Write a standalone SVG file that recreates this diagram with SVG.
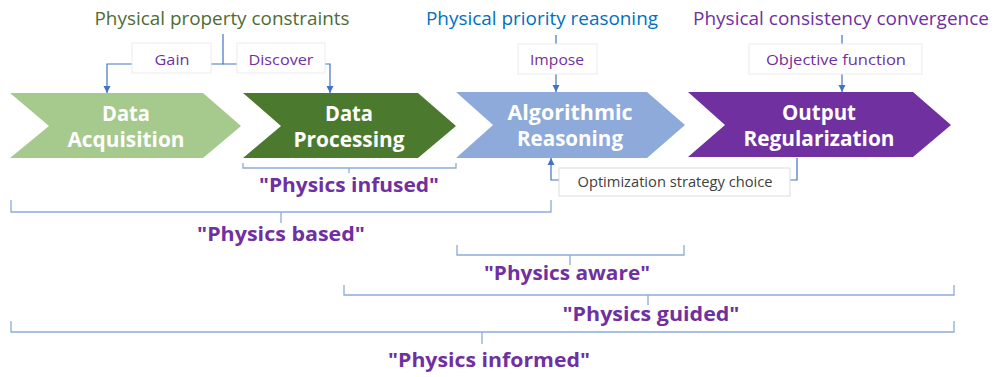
<svg xmlns="http://www.w3.org/2000/svg" width="995" height="377" viewBox="0 0 995 377">
<defs>
<marker id="arr" markerUnits="userSpaceOnUse" markerWidth="8" markerHeight="8" refX="7" refY="4" orient="auto" viewBox="0 0 8 8">
<path d="M0,0.5 L7,4 L0,7.5 Z" fill="#4472C4"/>
</marker>
<style>
.top{font-family:"Open Sans","Liberation Sans",sans-serif;font-size:18px;text-anchor:middle}
.lab{font-family:"Open Sans","Liberation Sans",sans-serif;font-size:14.5px;fill:#7030A0;text-anchor:middle}
.box{fill:#ffffff;stroke:#ececec;stroke-width:1}
.chv{font-family:"Open Sans","Liberation Sans",sans-serif;font-size:21px;font-weight:bold;fill:#ffffff;text-anchor:middle}
.con{fill:none;stroke:#4472C4;stroke-width:1.2}
.brk{fill:none;stroke:#8FAADC;stroke-width:1.3}
.phy{font-family:"Open Sans","Liberation Sans",sans-serif;font-size:19px;font-weight:bold;fill:#7030A0;text-anchor:middle}
</style>
</defs>
<rect width="995" height="377" fill="#ffffff"/>

<g id="top-labels">
<text class="top" x="222" y="25" fill="#4E6C36" textLength="255" lengthAdjust="spacingAndGlyphs">Physical property constraints</text>
<text class="top" x="542" y="25" fill="#0070C0" textLength="232" lengthAdjust="spacingAndGlyphs">Physical priority reasoning</text>
<text class="top" x="841" y="25" fill="#7030A0" textLength="296" lengthAdjust="spacingAndGlyphs">Physical consistency convergence</text>
</g>

<g id="connectors">
<path class="con" d="M223,34 V64 H107 V93" marker-end="url(#arr)"/>
<path class="con" d="M223,64 H330 V93" marker-end="url(#arr)"/>
<path class="con" d="M556,35 V92" marker-end="url(#arr)"/>
<path class="con" d="M842,35 V92" marker-end="url(#arr)"/>
<path class="con" d="M797,158 V180 H551 V158" marker-end="url(#arr)"/>
</g>

<g id="edge-labels">
<g id="lbl-gain"><rect class="box" x="132" y="43" width="79" height="30"/><text class="lab" x="172" y="65" textLength="35" lengthAdjust="spacingAndGlyphs">Gain</text></g>
<g id="lbl-discover"><rect class="box" x="237" y="43" width="88" height="30"/><text class="lab" x="281" y="65" textLength="65" lengthAdjust="spacingAndGlyphs">Discover</text></g>
<g id="lbl-impose"><rect class="box" x="518" y="44" width="79" height="30"/><text class="lab" x="557" y="65" textLength="54" lengthAdjust="spacingAndGlyphs">Impose</text></g>
<g id="lbl-objective"><rect class="box" x="749" y="44" width="173" height="30"/><text class="lab" x="836" y="65" textLength="140" lengthAdjust="spacingAndGlyphs">Objective function</text></g>
<g id="lbl-optimization"><rect class="box" x="559" y="168" width="231" height="28" style="stroke:#dcdcdc"/><text class="lab" x="675" y="187" style="fill:#404040" textLength="195" lengthAdjust="spacingAndGlyphs">Optimization strategy choice</text></g>
</g>

<g id="node-acquisition">
<polygon points="10,93 203,93 241,126 203,158 10,158 49,126" fill="#A6C98E"/>
<text class="chv" x="126" y="121" textLength="48" lengthAdjust="spacingAndGlyphs">Data</text>
<text class="chv" x="126" y="147" textLength="117" lengthAdjust="spacingAndGlyphs">Acquisition</text>
</g>
<g id="node-processing">
<polygon points="243,93 418,93 456,126 418,158 243,158 281,126" fill="#4B7A2E"/>
<text class="chv" x="349" y="121" textLength="48" lengthAdjust="spacingAndGlyphs">Data</text>
<text class="chv" x="349" y="147" textLength="111" lengthAdjust="spacingAndGlyphs">Processing</text>
</g>
<g id="node-reasoning">
<polygon points="456,92 647,92 685,125 647,158 456,158 493,125" fill="#8EAADB"/>
<text class="chv" x="570" y="120" textLength="125" lengthAdjust="spacingAndGlyphs">Algorithmic</text>
<text class="chv" x="570" y="146" textLength="106" lengthAdjust="spacingAndGlyphs">Reasoning</text>
</g>
<g id="node-regularization">
<polygon points="688,92 913,92 951,125 913,157 688,157 725,125" fill="#7030A0"/>
<text class="chv" x="819" y="120" textLength="74" lengthAdjust="spacingAndGlyphs">Output</text>
<text class="chv" x="819" y="146" textLength="151" lengthAdjust="spacingAndGlyphs">Regularization</text>
</g>

<g id="brackets">
<path class="brk" d="M243,163 V168 H456 V163 M349,168 V173"/>
<path class="brk" d="M11,200 V212 H551 V200 M281,212 V223"/>
<path class="brk" d="M457,245 V255 H684 V245 M570,255 V265"/>
<path class="brk" d="M344,285 V295 H954 V285 M648,295 V305"/>
<path class="brk" d="M11,321 V332 H954 V321 M482,332 V344"/>
</g>

<g id="scope-labels">
<text class="phy" x="349" y="192" textLength="180" lengthAdjust="spacingAndGlyphs">"Physics infused"</text>
<text class="phy" x="281" y="241" textLength="168" lengthAdjust="spacingAndGlyphs">"Physics based"</text>
<text class="phy" x="567" y="280" textLength="166" lengthAdjust="spacingAndGlyphs">"Physics aware"</text>
<text class="phy" x="651" y="321" textLength="177" lengthAdjust="spacingAndGlyphs">"Physics guided"</text>
<text class="phy" x="489" y="367" textLength="202" lengthAdjust="spacingAndGlyphs">"Physics informed"</text>
</g>
</svg>
